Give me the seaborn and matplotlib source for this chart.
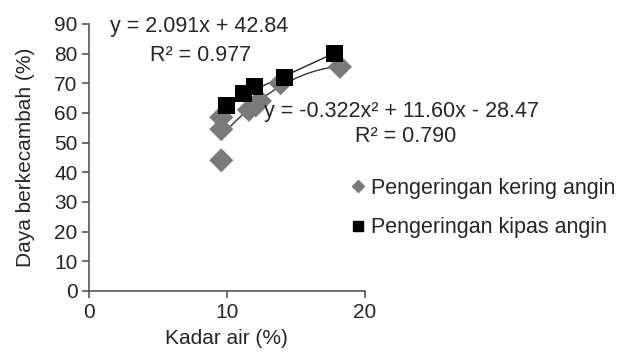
import pandas as pd
import matplotlib.pyplot as plt
import seaborn as sns
from matplotlib.lines import Line2D

# Data
kering_x = [9.6, 9.6, 9.6, 11.6, 12.1, 12.4, 13.9, 18.2]
kering_y = [44.0, 54.5, 58.5, 61.0, 62.5, 64.0, 70.0, 75.5]
kipas_x = [10.0, 11.2, 12.0, 14.2, 17.8]
kipas_y = [62.5, 66.5, 69.0, 72.0, 80.0]

labels = ["Pengeringan kering angin", "Pengeringan kipas angin"]

df = pd.DataFrame({
    "x": kering_x + kipas_x,
    "y": kering_y + kipas_y,
    "grup": [labels[0]] * len(kering_x) + [labels[1]] * len(kipas_x),
})

sns.set_style("white")
plt.rcParams['font.family'] = ['Liberation Sans', 'DejaVu Sans']

fig = plt.figure(figsize=(6.3, 3.56), dpi=100)
ax = fig.add_axes([0.141, 0.183, 0.438, 0.75])

# trend lines
sns.regplot(x=kering_x, y=kering_y, order=2, ci=None, scatter=False, ax=ax,
            line_kws={"color": "#333333", "lw": 1.0})
sns.regplot(x=kipas_x, y=kipas_y, order=1, ci=None, scatter=False, ax=ax,
            line_kws={"color": "#222222", "lw": 1.0})

sns.scatterplot(data=df, x="x", y="y", hue="grup", style="grup",
                palette={labels[0]: "#7a7a7a", labels[1]: "black"},
                markers={labels[0]: "D", labels[1]: "s"},
                s=150, edgecolor="none", ax=ax, zorder=3, legend=False)

ax.set_xlim(0, 20)
ax.set_ylim(0, 90)
ax.set_xticks([0, 10, 20])
ax.set_yticks(range(0, 91, 10))
for s in ["top", "right"]:
    ax.spines[s].set_visible(False)
for s in ["left", "bottom"]:
    ax.spines[s].set_color("#555555")
    ax.spines[s].set_linewidth(1.2)
ax.tick_params(axis="both", which="both", direction="out", length=5,
               width=1.2, color="#555555", labelsize=15, left=True, bottom=True)
ax.tick_params(axis="x", pad=4)
ax.tick_params(axis="y", pad=3)
ax.set_xlabel("Kadar air (%)", fontsize=15, labelpad=5)
ax.set_ylabel("Daya berkecambah (%)", fontsize=15, labelpad=14)

# equations
fs = 15.5
ax.text(1.5, 89, "y = 2.091x + 42.84", fontsize=fs, va="center")
ax.text(4.4, 79.5, "R² = 0.977", fontsize=fs, va="center")
ax.text(12.7, 60.5, "y = -0.322x² + 11.60x - 28.47", fontsize=fs, va="center")
ax.text(19.3, 52, "R² = 0.790", fontsize=fs, va="center")

# legend
handles = [
    Line2D([], [], marker="D", ls="none", color="#7a7a7a", markersize=6),
    Line2D([], [], marker="s", ls="none", color="black", markersize=7),
]
fig.legend(handles, labels, loc="upper left", bbox_to_anchor=(0.528, 0.555),
           frameon=False, fontsize=fs, handlelength=0.6, handletextpad=0.3,
           labelspacing=0.85)

plt.savefig("out.png", dpi=100)
